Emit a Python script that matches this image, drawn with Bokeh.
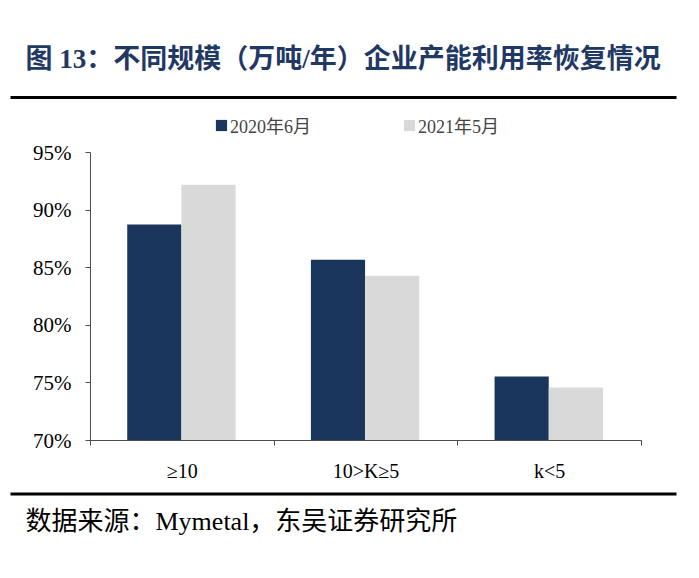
from bokeh.plotting import figure
from bokeh.models import (ColumnDataSource, FixedTicker, Range1d, LinearAxis, Legend, LegendItem)
from bokeh.layouts import column
from bokeh.core.properties import value
from bokeh.embed import file_html
from bokeh.resources import INLINE

categories = ["≥10", "10>K≥5", "k<5"]
series_names = ["2020年6月", "2021年5月"]
values_2020_06 = [88.75, 85.7, 75.55]
values_2021_05 = [92.2, 84.3, 74.6]
y_ticks = [70, 75, 80, 85, 90, 95]
title_text = "图 13：不同规模（万吨/年）企业产能利用率恢复情况"
source_text = "数据来源：Mymetal，东吴证券研究所"

DARK = "#1b365d"
LIGHT = "#d9d9d9"
SERIF = "Liberation Serif, Noto Sans CJK SC, serif"
W = 683
Y_MIN, Y_MAX = 70, 95
PX_PER_UNIT = 288 / (Y_MAX - Y_MIN)
HEAD_ROOM_PX = 40   # frame space above the 95% line, holds the legend


def no_align(f):
    if "frame_align" in f.properties():
        f.frame_align = False
    return f


def blank(height):
    f = figure(width=W, height=height, output_backend="svg", toolbar_location=None,
               x_range=Range1d(0, W), y_range=Range1d(height, 0),
               min_border=0, x_axis_type=None, y_axis_type=None)
    f.outline_line_color = None
    f.grid.visible = False
    return no_align(f)


# ---- header ----
top = blank(100)
top.text(x=[25], y=[58], text=[title_text], text_font=value(SERIF), text_font_size="27px",
         text_font_style="bold", text_color="#1f3864", text_baseline="middle")
top.quad(left=[10], right=[676], top=[95.5], bottom=[98.5], fill_color="black", line_color=None)

# ---- main chart ----
p = figure(width=W, height=385, output_backend="svg", toolbar_location=None,
           x_range=Range1d(0, 3), y_range=Range1d(Y_MIN, Y_MAX + HEAD_ROOM_PX / PX_PER_UNIT),
           min_border_left=90, min_border_right=42, min_border_top=12, min_border_bottom=45,
           x_axis_type=None, y_axis_type=None)
no_align(p)
p.outline_line_color = None
p.grid.visible = False

centers = [i + 0.5 for i in range(len(categories))]
bw = 0.295
src = ColumnDataSource(dict(
    x1=[c - bw / 2 - 0.005 for c in centers], x2=[c + bw / 2 - 0.005 for c in centers],
    v1=values_2020_06, v2=values_2021_05))
r1 = p.vbar(x="x1", top="v1", bottom=69.6, width=bw, source=src, fill_color=DARK, line_color=None)
r2 = p.vbar(x="x2", top="v2", bottom=70, width=bw, source=src, fill_color=LIGHT, line_color=None)

ya = LinearAxis(ticker=FixedTicker(ticks=y_ticks, minor_ticks=[]), bounds=(Y_MIN, Y_MAX))
ya.major_label_overrides = {t: f"{t}%" for t in y_ticks}
ya.axis_line_color = "#4d4d4d"
ya.major_tick_line_color = "#4d4d4d"
ya.major_tick_out = 5
ya.major_tick_in = 0
ya.minor_tick_out = 0
ya.major_label_text_font = SERIF
ya.major_label_text_font_size = "21px"
ya.major_label_text_color = "black"
ya.major_label_standoff = 14
p.add_layout(ya, "left")

xa = LinearAxis(ticker=FixedTicker(ticks=centers, minor_ticks=[0, 1, 2, 3]))
xa.major_label_overrides = {c: lab for c, lab in zip(centers, categories)}
xa.axis_line_color = "#4d4d4d"
xa.major_tick_line_color = None
xa.major_tick_out = 0
xa.major_tick_in = 0
xa.minor_tick_line_color = "#4d4d4d"
xa.minor_tick_out = 5
xa.minor_tick_in = 0
xa.major_label_text_font = SERIF
xa.major_label_text_font_size = "20px"
xa.major_label_text_color = "black"
xa.major_label_standoff = 14
p.add_layout(xa, "below")

legend = Legend(items=[LegendItem(label=series_names[0], renderers=[r1]),
                       LegendItem(label=series_names[1], renderers=[r2])],
                orientation="horizontal", location=(124, 302),
                glyph_width=14, glyph_height=14, label_standoff=2, spacing=91,
                padding=0, margin=0, border_line_color=None, background_fill_alpha=0,
                label_text_font=SERIF, label_text_font_size="18px", label_height=18)
p.add_layout(legend, "center")

# ---- footer ----
bot = blank(77)
bot.quad(left=[10], right=[676], top=[7], bottom=[10], fill_color="black", line_color=None)
bot.text(x=[25], y=[36], text=[source_text], text_font=value(SERIF), text_font_size="26px",
         text_color="black", text_baseline="middle")

layout = column(top, p, bot, spacing=0)
open("out.html", "w").write(file_html(layout, INLINE))
